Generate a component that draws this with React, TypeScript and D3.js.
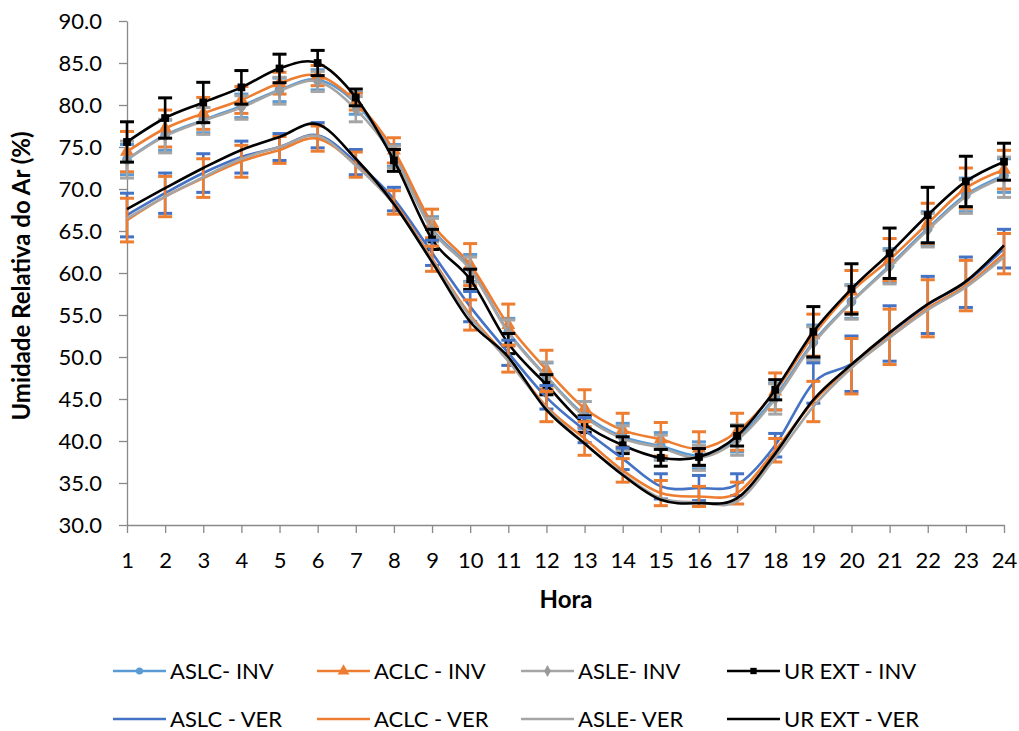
import React, { useRef, useEffect } from 'react'
import * as d3 from 'd3'

// hours on the x axis
const hours = d3.range(1, 25).map(String)
const yTicks = [30, 35, 40, 45, 50, 55, 60, 65, 70, 75, 80, 85, 90]

// winter (INV)
const aslcInv = [73.5, 76.4, 78.2, 79.9, 81.8, 83.0, 80.2, 74.0, 65.3, 60.6, 53.0, 47.7, 43.1, 40.5, 39.4, 38.3, 40.3, 45.3, 51.8, 56.6, 60.9, 65.3, 69.3, 71.6]
const aclcInv = [74.45, 77.2, 79.0, 80.6, 82.6, 83.5, 80.4, 74.6, 65.9, 61.0, 53.8, 48.5, 43.9, 41.3, 40.2, 39.1, 41.1, 45.9, 52.6, 57.8, 61.6, 65.9, 70.1, 72.3]
const asleInv = [73.5, 76.3, 78.1, 79.7, 81.7, 82.8, 79.5, 73.8, 65.1, 60.4, 52.9, 47.6, 42.9, 40.3, 39.2, 38.0, 40.1, 45.0, 51.6, 56.5, 60.7, 65.1, 69.1, 71.4]
const urInv = [75.6, 78.45, 80.3, 82.1, 84.35, 85.0, 80.9, 73.4, 64.0, 59.25, 51.6, 46.7, 42.0, 39.5, 38.0, 38.1, 40.6, 46.1, 53.0, 58.1, 62.35, 66.9, 70.9, 73.25]

// summer (VER)
const aslcVer = [66.9, 69.5, 71.9, 73.8, 75.0, 76.4, 73.2, 68.8, 62.4, 56.0, 50.5, 45.2, 41.3, 37.9, 34.6, 34.4, 34.8, 39.5, 46.9, 49.2, 52.8, 56.2, 58.9, 62.9]
const aclcVer = [66.3, 69.1, 71.3, 73.3, 74.65, 76.0, 72.9, 68.4, 61.7, 55.0, 49.8, 44.1, 40.3, 36.5, 33.8, 33.4, 33.8, 38.9, 44.7, 48.9, 52.4, 55.8, 58.5, 62.3]
const asleVer = [66.5, 69.1, 71.4, 73.6, 75.0, 76.3, 72.8, 68.2, 61.5, 54.8, 49.5, 43.9, 39.7, 36.1, 33.2, 32.7, 32.8, 38.0, 44.1, 48.7, 52.3, 55.6, 58.3, 61.9]
const urVer = [67.6, 70.1, 72.5, 74.65, 76.2, 77.7, 73.6, 68.2, 61.3, 54.2, 50.0, 43.7, 39.7, 35.95, 33.0, 32.6, 33.2, 38.5, 44.9, 49.1, 52.9, 56.3, 59.0, 63.3]

// error bars (+/-)
const errAslcInv = [1.8, 1.8, 1.5, 1.4, 1.4, 1.2, 1.3, 1.3, 1.4, 1.6, 1.6, 1.6, 1.6, 1.6, 1.6, 1.6, 1.6, 1.6, 2.0, 2.0, 2.0, 2.0, 2.0, 2.0]
const errAclcInv = [2.4, 2.2, 1.9, 1.6, 1.3, 1.2, 1.0, 1.5, 1.7, 2.5, 2.5, 2.3, 2.2, 2.0, 2.0, 2.0, 2.2, 2.2, 2.5, 2.5, 2.5, 2.4, 2.4, 2.3]
const errAsleInv = [2.2, 2.0, 1.6, 1.4, 1.6, 1.2, 1.5, 1.3, 1.4, 1.5, 1.5, 1.8, 1.8, 1.5, 1.5, 1.5, 1.8, 1.8, 2.0, 2.0, 2.0, 2.0, 2.0, 2.4]
const errUrInv = [2.4, 2.4, 2.4, 2.0, 1.7, 1.5, 1.0, 1.3, 1.2, 1.2, 1.2, 1.2, 1.0, 1.0, 1.0, 1.0, 1.2, 1.2, 3.0, 3.0, 3.0, 3.3, 3.0, 2.2]
const errAslcVer = [2.6, 2.4, 2.3, 1.9, 1.6, 1.5, 1.5, 1.4, 1.5, 1.8, 1.5, 1.4, 1.5, 1.3, 1.5, 1.5, 1.3, 1.4, 2.4, 3.3, 3.3, 3.4, 3.0, 2.3]
const errAclcVer = [2.6, 2.4, 2.3, 1.9, 1.6, 1.5, 1.5, 1.4, 1.5, 1.8, 1.6, 1.8, 2.0, 1.4, 1.5, 1.2, 1.3, 1.4, 2.4, 3.3, 3.3, 3.4, 3.0, 2.4]

const series = [
  { name: 'ASLC- INV', values: aslcInv, err: errAslcInv, color: '#5B9BD5', marker: 'circle' },
  { name: 'ACLC - INV', values: aclcInv, err: errAclcInv, color: '#ED7D31', marker: 'triangle' },
  { name: 'ASLE- INV', values: asleInv, err: errAsleInv, color: '#A5A5A5', marker: 'diamond' },
  { name: 'UR EXT - INV', values: urInv, err: errUrInv, color: '#000000', marker: 'square' },
  { name: 'ASLC - VER', values: aslcVer, err: errAslcVer, color: '#4472C4', marker: null },
  { name: 'ACLC - VER', values: aclcVer, err: errAclcVer, color: '#ED7D31', marker: null },
  { name: 'ASLE- VER', values: asleVer, err: null, color: '#A5A5A5', marker: null },
  { name: 'UR EXT - VER', values: urVer, err: null, color: '#000000', marker: null },
]

const W = 1019
const H = 731
const FONT = 'Lato, "Open Sans", sans-serif'
const AXIS = '#898989'

function markerPath(kind: string, size: number) {
  const map: any = {
    circle: d3.symbolCircle,
    triangle: d3.symbolTriangle,
    diamond: d3.symbolDiamond,
    square: d3.symbolSquare,
  }
  return d3.symbol(map[kind], size)()
}
const markerFill = (s: any) => (s.marker === 'diamond' ? '#999999' : s.color)
const markerSize = (kind: string) => (kind === 'triangle' ? 85 : kind === 'circle' ? 75 : 60)

const App = () => {
  const ref = useRef<SVGSVGElement>(null)

  useEffect(() => {
    const svg = d3.select(ref.current)
    svg.selectAll('*').remove()

    const x = d3.scalePoint<string>().domain(hours).range([127, 1004])
    const y = d3.scaleLinear().domain([30, 90]).range([525, 21])

    // y axis
    const gy = svg.append('g').attr('transform', 'translate(127,0)')
      .call(d3.axisLeft(y).tickValues(yTicks).tickFormat(d3.format('.1f')).tickSize(8).tickSizeOuter(0).tickPadding(17))
    gy.select('.domain').attr('stroke', AXIS).attr('stroke-width', 1.3)
    gy.selectAll('.tick line').attr('stroke', AXIS).attr('stroke-width', 1.3)
    gy.selectAll('.tick text').attr('fill', '#000').style('font-family', FONT).style('font-size', '22px')

    // x axis
    const gx = svg.append('g').attr('transform', 'translate(0,525)')
      .call(d3.axisBottom(x).tickSize(8).tickSizeOuter(0))
    gx.select('.domain').attr('stroke', AXIS).attr('stroke-width', 1.3)
    gx.selectAll('.tick line').attr('stroke', AXIS).attr('stroke-width', 1.3)
    gx.selectAll('.tick text').attr('fill', '#000').attr('y', 43).attr('dy', 0)
      .style('font-family', FONT).style('font-size', '22px')

    // axis titles
    svg.append('text').text('Hora')
      .attr('x', 566).attr('y', 608).attr('text-anchor', 'middle')
      .style('font-family', FONT).style('font-size', '24px').style('font-weight', 'bold')
    svg.append('text').text('Umidade Relativa do Ar (%)')
      .attr('transform', 'translate(30,276) rotate(-90)').attr('text-anchor', 'middle')
      .style('font-family', FONT).style('font-size', '24px').style('font-weight', 'bold')

    const line = d3.line<number>()
      .x((_, i) => x(hours[i]) as number)
      .y(d => y(d))
      .curve(d3.curveCatmullRom.alpha(0))

    series.forEach(s => {
      const g = svg.append('g')
      g.append('path').datum(s.values)
        .attr('d', line).attr('fill', 'none')
        .attr('stroke', s.color).attr('stroke-width', 2.6)

      if (s.err) {
        const eb = g.append('g').selectAll('g').data(s.values).join('g')
          .attr('transform', (_, i) => `translate(${x(hours[i])},0)`)
        eb.append('line')
          .attr('y1', (d, i) => y(d + s.err![i])).attr('y2', (d, i) => y(d - s.err![i]))
          .attr('stroke', s.color).attr('stroke-width', 2.6)
        eb.append('line')
          .attr('x1', -7).attr('x2', 7)
          .attr('y1', (d, i) => y(d + s.err![i])).attr('y2', (d, i) => y(d + s.err![i]))
          .attr('stroke', s.color).attr('stroke-width', 3)
        eb.append('line')
          .attr('x1', -7).attr('x2', 7)
          .attr('y1', (d, i) => y(d - s.err![i])).attr('y2', (d, i) => y(d - s.err![i]))
          .attr('stroke', s.color).attr('stroke-width', 3)
      }

      if (s.marker) {
        g.append('g').selectAll('path').data(s.values).join('path')
          .attr('d', markerPath(s.marker, markerSize(s.marker)))
          .attr('transform', (d, i) => `translate(${x(hours[i])},${y(d)})`)
          .attr('fill', markerFill(s))
      }
    })

    // legend
    const cols = [113, 317, 521, 727]
    const rows = [671, 719]
    series.forEach((s, k) => {
      const lx = cols[k % 4]
      const ly = rows[Math.floor(k / 4)]
      const g = svg.append('g').attr('transform', `translate(${lx},${ly})`)
      g.append('line').attr('x1', 0).attr('x2', 53)
        .attr('stroke', s.color).attr('stroke-width', 2.6)
      if (s.marker) {
        g.append('path').attr('d', markerPath(s.marker, s.marker === 'triangle' ? 60 : 40))
          .attr('transform', 'translate(26.5,0)').attr('fill', markerFill(s))
      }
      g.append('text').text(s.name).attr('x', 57).attr('y', 0).attr('dy', '0.36em')
        .style('font-family', FONT).style('font-size', '22px')
    })
  }, [])

  return (
    <div style={{ position: 'absolute', left: 0, top: 0 }}>
      <svg ref={ref} width={W} height={H} style={{ display: 'block', background: '#fff' }}></svg>
    </div>
  )
}

export default App
